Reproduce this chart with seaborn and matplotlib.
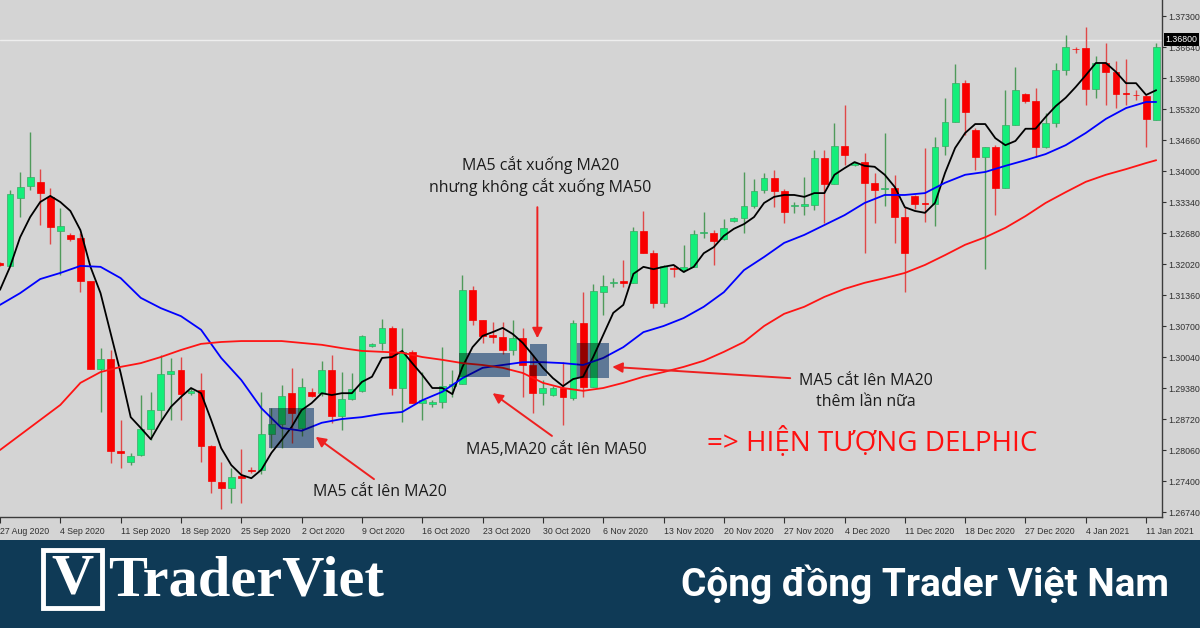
import numpy as np
import pandas as pd
import seaborn as sns
import matplotlib
matplotlib.use("Agg")
from matplotlib import pyplot as plt
from matplotlib import transforms
from matplotlib.patches import Rectangle

# GBPUSD daily candles
opens = [1.3205, 1.3198, 1.3343, 1.3368, 1.3377, 1.3345, 1.3272, 1.3264, 1.3257, 1.3166,
         1.2978, 1.3000, 1.2804, 1.2781, 1.2795, 1.2851, 1.2891, 1.2968, 1.2976, 1.2927,
         1.2934, 1.2815, 1.2738, 1.2725, 1.2751, 1.2764, 1.2764, 1.2840, 1.2861, 1.2927,
         1.2853, 1.2930, 1.2927, 1.2976, 1.2878, 1.2915, 1.2932, 1.3027, 1.3034, 1.3066,
         1.2938, 1.3015, 1.2906, 1.2904, 1.2908, 1.2942, 1.2947, 1.3147, 1.3083, 1.3051,
         1.3047, 1.3019, 1.3044, 1.2987, 1.2927, 1.2923, 1.2938, 1.2917, 1.3076, 1.2940,
         1.3142, 1.3161, 1.3166, 1.3162, 1.3272, 1.3225, 1.3119, 1.3194, 1.3189, 1.3196,
         1.3268, 1.3268, 1.3255, 1.3294, 1.3300, 1.3326, 1.3360, 1.3385, 1.3358, 1.3326,
         1.3326, 1.3328, 1.3428, 1.3372, 1.3453, 1.3413, 1.3419, 1.3375, 1.3362, 1.3364,
         1.3302, 1.3347, 1.3332, 1.3330, 1.3453, 1.3504, 1.3587, 1.3487, 1.3430, 1.3451,
         1.3364, 1.3498, 1.3564, 1.3549, 1.3451, 1.3502, 1.3615, 1.3660, 1.3662, 1.3575,
         1.3630, 1.3611, 1.3566, 1.3562, 1.3560, 1.3509]
highs = [1.3206, 1.3360, 1.3398, 1.3483, 1.3404, 1.3364, 1.3321, 1.3268, 1.3268, 1.3166,
         1.3023, 1.3019, 1.2870, 1.2800, 1.2923, 1.2930, 1.3008, 1.3002, 1.3004, 1.2938,
         1.2970, 1.2817, 1.2781, 1.2768, 1.2808, 1.2770, 1.2930, 1.2895, 1.2944, 1.2981,
         1.2959, 1.2938, 1.2996, 1.3008, 1.2972, 1.2970, 1.3051, 1.3034, 1.3085, 1.3070,
         1.3066, 1.3019, 1.2972, 1.2912, 1.3025, 1.2976, 1.3179, 1.3155, 1.3083, 1.3079,
         1.3079, 1.3083, 1.3066, 1.3008, 1.2955, 1.2942, 1.2993, 1.3083, 1.3142, 1.3159,
         1.3179, 1.3172, 1.3211, 1.3281, 1.3315, 1.3232, 1.3200, 1.3200, 1.3243, 1.3274,
         1.3313, 1.3274, 1.3298, 1.3302, 1.3398, 1.3383, 1.3396, 1.3402, 1.3362, 1.3334,
         1.3387, 1.3445, 1.3445, 1.3502, 1.3541, 1.3419, 1.3438, 1.3396, 1.3481, 1.3392,
         1.3323, 1.3349, 1.3449, 1.3472, 1.3556, 1.3628, 1.3594, 1.3492, 1.3451, 1.3455,
         1.3572, 1.3622, 1.3566, 1.3577, 1.3524, 1.3630, 1.3690, 1.3664, 1.3707, 1.3645,
         1.3673, 1.3634, 1.3639, 1.3572, 1.3562, 1.3673]
lows = [1.3198, 1.3198, 1.3302, 1.3360, 1.3285, 1.3245, 1.3179, 1.3251, 1.3142, 1.2978,
        1.2887, 1.2778, 1.2768, 1.2774, 1.2793, 1.2827, 1.2870, 1.2870, 1.2870, 1.2923,
        1.2781, 1.2715, 1.2680, 1.2693, 1.2693, 1.2757, 1.2755, 1.2810, 1.2810, 1.2821,
        1.2836, 1.2919, 1.2921, 1.2864, 1.2849, 1.2912, 1.2930, 1.3025, 1.3019, 1.2923,
        1.2866, 1.2906, 1.2870, 1.2898, 1.2895, 1.2919, 1.2947, 1.3072, 1.3034, 1.3034,
        1.3010, 1.3008, 1.2919, 1.2885, 1.2902, 1.2921, 1.2859, 1.2912, 1.2919, 1.2940,
        1.3094, 1.3153, 1.3153, 1.3162, 1.3225, 1.3108, 1.3111, 1.3174, 1.3185, 1.3196,
        1.3257, 1.3200, 1.3253, 1.3291, 1.3268, 1.3321, 1.3353, 1.3323, 1.3289, 1.3311,
        1.3306, 1.3317, 1.3289, 1.3372, 1.3413, 1.3411, 1.3225, 1.3289, 1.3326, 1.3247,
        1.3142, 1.3319, 1.3291, 1.3283, 1.3434, 1.3504, 1.3477, 1.3402, 1.3191, 1.3306,
        1.3364, 1.3498, 1.3545, 1.3430, 1.3449, 1.3494, 1.3604, 1.3651, 1.3541, 1.3556,
        1.3541, 1.3534, 1.3541, 1.3551, 1.3451, 1.3509]
closes = [1.3200, 1.3351, 1.3366, 1.3387, 1.3353, 1.3281, 1.3283, 1.3255, 1.3166, 1.2978,
          1.3000, 1.2804, 1.2800, 1.2793, 1.2851, 1.2891, 1.2968, 1.2974, 1.2925, 1.2932,
          1.2815, 1.2740, 1.2725, 1.2749, 1.2746, 1.2761, 1.2840, 1.2861, 1.2921, 1.2885,
          1.2940, 1.2921, 1.2976, 1.2878, 1.2915, 1.2936, 1.3049, 1.3032, 1.3066, 1.2938,
          1.3015, 1.2906, 1.2912, 1.2908, 1.2942, 1.2947, 1.3147, 1.3083, 1.3049, 1.3047,
          1.3019, 1.3044, 1.2987, 1.2927, 1.2938, 1.2938, 1.2919, 1.3076, 1.2940, 1.3145,
          1.3155, 1.3164, 1.3162, 1.3272, 1.3225, 1.3119, 1.3198, 1.3191, 1.3196, 1.3266,
          1.3270, 1.3251, 1.3279, 1.3300, 1.3326, 1.3358, 1.3385, 1.3358, 1.3313, 1.3328,
          1.3329, 1.3428, 1.3372, 1.3453, 1.3434, 1.3417, 1.3375, 1.3360, 1.3364, 1.3302,
          1.3225, 1.3330, 1.3330, 1.3451, 1.3504, 1.3587, 1.3526, 1.3430, 1.3451, 1.3364,
          1.3498, 1.3572, 1.3549, 1.3451, 1.3502, 1.3615, 1.3664, 1.3659, 1.3575, 1.3630,
          1.3611, 1.3564, 1.3564, 1.3561, 1.3511, 1.3664]

# moving averages as drawn on the chart
ma5 = [1.3147, 1.3196, 1.3259, 1.3302, 1.3334, 1.3347, 1.3334, 1.3315, 1.3274, 1.3196,
       1.3140, 1.3055, 1.2970, 1.2876, 1.2853, 1.2829, 1.2866, 1.2898, 1.2919, 1.2938,
       1.2927, 1.2870, 1.2810, 1.2774, 1.2753, 1.2746, 1.2764, 1.2800, 1.2827, 1.2855,
       1.2891, 1.2906, 1.2927, 1.2923, 1.2927, 1.2927, 1.2951, 1.2962, 1.3002, 1.3004,
       1.3017, 1.2991, 1.2966, 1.2938, 1.2938, 1.2925, 1.2983, 1.3025, 1.3049, 1.3057,
       1.3066, 1.3053, 1.3034, 1.3008, 1.2981, 1.2959, 1.2942, 1.2957, 1.2962, 1.3004,
       1.3051, 1.3098, 1.3115, 1.3181, 1.3196, 1.3191, 1.3196, 1.3200, 1.3185, 1.3196,
       1.3225, 1.3238, 1.3262, 1.3277, 1.3287, 1.3302, 1.3332, 1.3345, 1.3349, 1.3349,
       1.3345, 1.3353, 1.3353, 1.3392, 1.3406, 1.3419, 1.3411, 1.3409, 1.3392, 1.3366,
       1.3323, 1.3315, 1.3311, 1.3332, 1.3396, 1.3449, 1.3481, 1.3500, 1.3500, 1.3470,
       1.3455, 1.3464, 1.3490, 1.3490, 1.3515, 1.3538, 1.3556, 1.3579, 1.3604, 1.3630,
       1.3630, 1.3611, 1.3587, 1.3587, 1.3562, 1.3572]
ma_bars = list(range(0, 115, 2)) + [115]
ma20 = [1.3115, 1.3140, 1.3170, 1.3183, 1.3198, 1.3196, 1.3172, 1.3130, 1.3108, 1.3091,
        1.3062, 1.3002, 1.2955, 1.2895, 1.2853, 1.2847, 1.2864, 1.2872, 1.2876, 1.2883,
        1.2887, 1.2912, 1.2930, 1.2959, 1.2981, 1.2987, 1.2993, 1.2993, 1.2991, 1.2987,
        1.3002, 1.3025, 1.3057, 1.3070, 1.3087, 1.3111, 1.3142, 1.3189, 1.3217, 1.3247,
        1.3264, 1.3285, 1.3306, 1.3332, 1.3349, 1.3349, 1.3353, 1.3375, 1.3392, 1.3398,
        1.3411, 1.3423, 1.3436, 1.3455, 1.3481, 1.3511, 1.3534, 1.3547, 1.3547]
ma50 = [1.2806, 1.2838, 1.2870, 1.2902, 1.2949, 1.2972, 1.2983, 1.2991, 1.3004, 1.3019,
        1.3032, 1.3036, 1.3038, 1.3038, 1.3038, 1.3034, 1.3030, 1.3023, 1.3017, 1.3015,
        1.3013, 1.3004, 1.2998, 1.2991, 1.2987, 1.2981, 1.2970, 1.2949, 1.2938, 1.2932,
        1.2938, 1.2949, 1.2962, 1.2972, 1.2983, 1.2996, 1.3015, 1.3036, 1.3070, 1.3096,
        1.3111, 1.3132, 1.3149, 1.3162, 1.3172, 1.3183, 1.3200, 1.3221, 1.3243, 1.3259,
        1.3279, 1.3304, 1.3332, 1.3355, 1.3377, 1.3392, 1.3404, 1.3417, 1.3423]

date_labels = ["27 Aug 2020", "4 Sep 2020", "11 Sep 2020", "18 Sep 2020", "25 Sep 2020",
               "2 Oct 2020", "9 Oct 2020", "16 Oct 2020", "23 Oct 2020", "30 Oct 2020",
               "6 Nov 2020", "13 Nov 2020", "20 Nov 2020", "27 Nov 2020", "4 Dec 2020",
               "11 Dec 2020", "18 Dec 2020", "27 Dec 2020", "4 Jan 2021", "11 Jan 2021"]
price_ticks = [1.26740, 1.27400, 1.28060, 1.28720, 1.29380, 1.30040, 1.30700, 1.31360,
               1.32020, 1.32680, 1.33340, 1.34000, 1.34660, 1.35320, 1.35980, 1.36640,
               1.37300]
last_price = 1.36800

bg = "#d4d4d4"
up_body, up_wick = "#14ee7a", "#4f9a5a"
dn_body, dn_wick = "#f80000", "#e04848"
arrow_red = "#ee2020"

sns.set_theme(style="white")
plt.rcParams["font.family"] = ["DejaVu Sans"]

df = pd.DataFrame({"open": opens, "high": highs, "low": lows, "close": closes})
df["bar"] = np.arange(len(df))
up = df["close"] >= df["open"]

fig = plt.figure(figsize=(12, 6.28), dpi=100, facecolor=bg)
ax = fig.add_axes([0, 111 / 628, 1162 / 1200, 517 / 628])
ax.set_facecolor(bg)

# current price line
ax.axhline(last_price, color="#eeeeee", lw=1, zorder=1)

# highlight boxes (bar from, bar to, price low, price high)
boxes = [(26.8, 31.2, 1.2810, 1.2895), (45.7, 50.7, 1.2962, 1.3013),
         (52.7, 54.4, 1.2964, 1.3032), (57.4, 60.6, 1.2959, 1.3034)]
for x0, x1, y0, y1 in boxes:
    ax.add_patch(Rectangle((x0, y0), x1 - x0, y1 - y0, facecolor="#9ec8fa",
                           edgecolor="none", zorder=1.5))
    ax.add_patch(Rectangle((x0, y0), x1 - x0, y1 - y0, facecolor="black",
                           alpha=0.4, edgecolor="none", zorder=5))

# candles
ax.vlines(df["bar"], df["low"], df["high"],
          colors=np.where(up, up_wick, dn_wick), lw=1, zorder=2)
body = (df["close"] - df["open"]).abs().clip(lower=0.00015)
ax.bar(df["bar"], body, bottom=df[["open", "close"]].min(axis=1), width=0.68,
       color=np.where(up, up_body, dn_body),
       edgecolor=np.where(up, "#3aa864", dn_body), linewidth=0.5, zorder=3)

# moving averages
sns.lineplot(x=df["bar"], y=ma5, color="black", lw=1.3, ax=ax, zorder=4)
sns.lineplot(x=ma_bars, y=ma20, color="#0000ff", lw=1.3, ax=ax, zorder=4)
sns.lineplot(x=ma_bars, y=ma50, color="#ff1414", lw=1.3, ax=ax, zorder=4)

ax.set_xlim(0.07, 115.58)
ax.set_ylim(1.26634, 1.37641)
ax.set_xlabel("")
ax.set_ylabel("")

ax.yaxis.tick_right()
ax.set_yticks(price_ticks)
ax.set_yticklabels([f"{v:.5f}" for v in price_ticks])
ax.tick_params(axis="y", direction="out", length=3, width=0.8, colors="#303030",
               labelsize=6.3, pad=1.5, right=True, left=False)
ax.set_xticks(df["bar"][::6])
ax.set_xticklabels(date_labels, ha="left")
ax.tick_params(axis="x", direction="out", length=4, width=0.8, colors="#303030",
               labelsize=6.3, pad=3, bottom=True)
for lab in ax.get_xticklabels() + ax.get_yticklabels():
    lab.set_family("Liberation Sans")
for side in ["top", "left"]:
    ax.spines[side].set_visible(False)
for side in ["right", "bottom"]:
    ax.spines[side].set_color("#3c3c3c")
    ax.spines[side].set_linewidth(1)

blend = transforms.blended_transform_factory(ax.transAxes, ax.transData)
ax.text(1.003, last_price, "1.36800", transform=blend, color="white",
        fontsize=6.3, family="Liberation Sans", va="center", ha="left",
        bbox=dict(facecolor="black", edgecolor="none", pad=1.2), zorder=7)

# annotations
txt = dict(family="Open Sans", fontsize=11.5, color="#1c1c1c", ha="center",
           va="center", zorder=7)
ax.text(53.75, 1.3413, "MA5 cắt xuống MA20", **txt)
ax.text(53.75, 1.3366, "nhưng không cắt xuống MA50", **txt)
ax.text(55.3, 1.2806, "MA5,MA20 cắt lên MA50", **txt)
ax.text(37.8, 1.2717, "MA5 cắt lên MA20", **txt)
ax.text(86.1, 1.2953, "MA5 cắt lên MA20", **txt)
ax.text(86.1, 1.2908, "thêm lần nữa", **txt)
ax.text(70.3, 1.2824, "=> HIỆN TƯỢNG DELPHIC", family="Open Sans", fontsize=20,
        color="#ff1010", ha="left", va="center", zorder=7)

arrows = [((53.45, 1.3044), (53.45, 1.3323)),
          ((49.0, 1.2927), (54.9, 1.2836)),
          ((31.4, 1.2834), (37.2, 1.2744)),
          ((60.9, 1.2983), (78.6, 1.2959))]
for head, tail in arrows:
    ax.annotate("", xy=head, xytext=tail, zorder=7,
                arrowprops=dict(arrowstyle="-|>", color=arrow_red, lw=1.4,
                                mutation_scale=15, shrinkA=0, shrinkB=0))

# bottom banner
fig.add_artist(Rectangle((0, 0), 1, 88 / 628, transform=fig.transFigure,
                         facecolor="#0f3a56", edgecolor="none", zorder=0))
fig.add_artist(Rectangle((43 / 1200, 20 / 628), 59 / 1200, 58 / 628,
                         transform=fig.transFigure, facecolor="none",
                         edgecolor="white", lw=3.5))
fig.text(72.5 / 1200, 48 / 628, "V", family="Liberation Serif", weight="bold",
         fontsize=42, color="white", ha="center", va="center")
fig.text(108 / 1200, 46 / 628, "TraderViet", family="Liberation Serif",
         weight="bold", fontsize=42, color="white", ha="left", va="center")
fig.text(1169 / 1200, 44 / 628, "Cộng đồng Trader Việt Nam", family="Roboto",
         weight="bold", fontsize=28, color="white", ha="right", va="center")

fig.savefig("out.png", dpi=100, facecolor=bg)
